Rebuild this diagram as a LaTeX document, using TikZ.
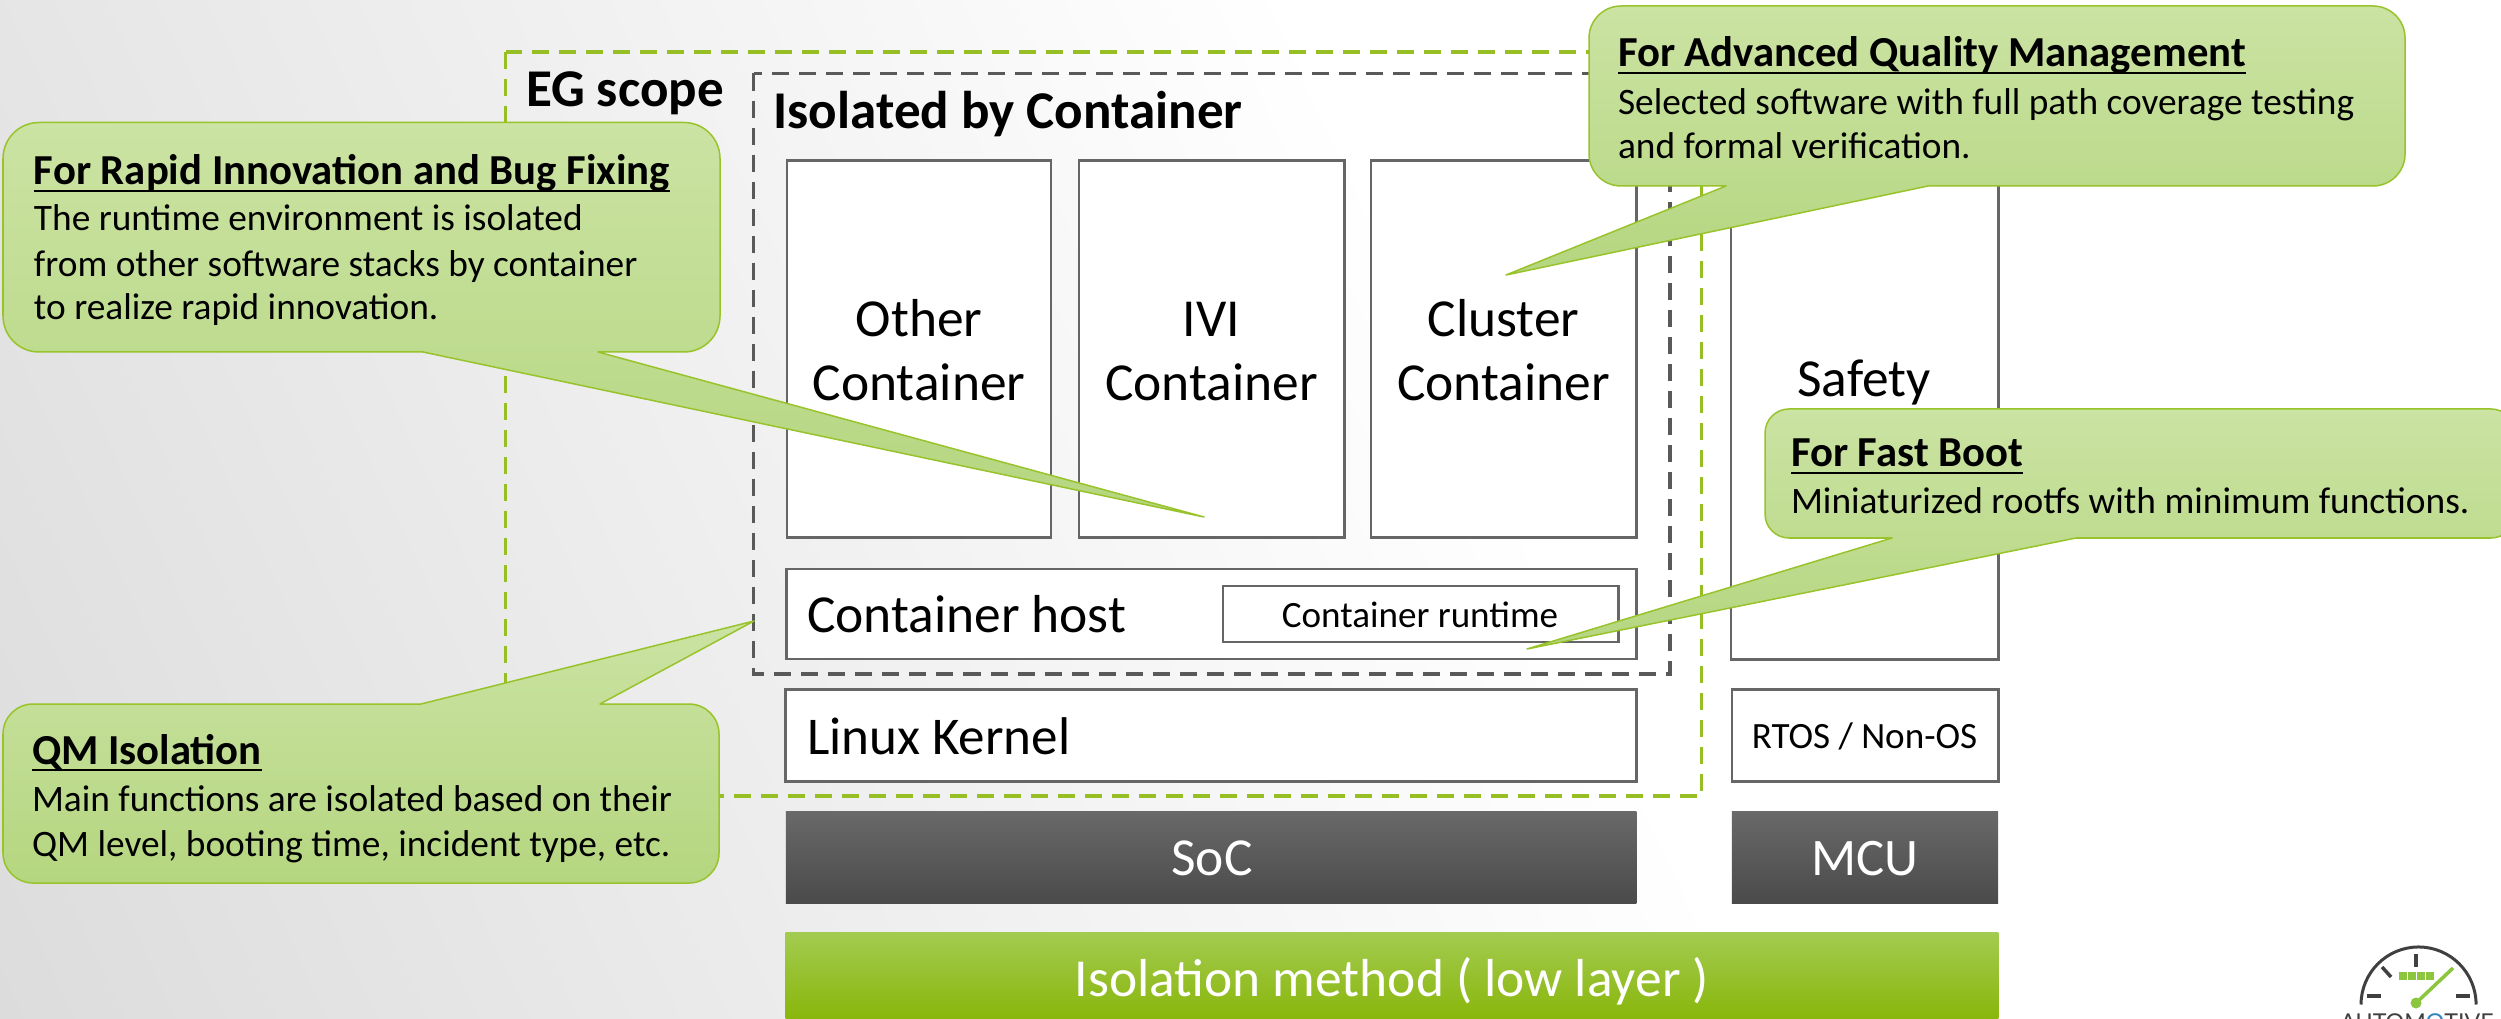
\documentclass[tikz,border=0pt]{standalone}
\usepackage{fontspec}
\setmainfont{Carlito}
\newfontfamily\logofont{Lato}
\usetikzlibrary{calc}
\definecolor{dashgreen}{HTML}{97BE22}
\definecolor{dashgray}{HTML}{595959}
\definecolor{boxline}{HTML}{666666}
\definecolor{callline}{HTML}{98C32A}
\definecolor{calltop}{HTML}{CBE3A3}
\definecolor{callbot}{HTML}{B5D680}
\definecolor{bgleft}{HTML}{DCDCDC}
\definecolor{darktop}{HTML}{696969}
\definecolor{darkbot}{HTML}{4A4A4A}
\definecolor{bartop}{HTML}{A3CB50}
\definecolor{barbot}{HTML}{89B60B}
\definecolor{logogreen}{HTML}{8CC63F}
\definecolor{logodark}{HTML}{404040}
\definecolor{logoblue}{HTML}{2E86C1}
\newcommand{\tul}[1]{\setbox0=\hbox{#1}\rlap{\vrule width\wd0 height-0.11em depth 0.17em}\box0}
\newcommand{\fs}[1]{\fontsize{#1pt}{1.2em}\selectfont}
\tikzset{
  whitebox/.style={draw=boxline,line width=.028cm,fill=white,inner sep=0pt,outer sep=0pt,align=center,font=\fs{15.2}},
  darkbox/.style={top color=darktop,bottom color=darkbot,inner sep=0pt,outer sep=0pt,text=white},
  barbox/.style={top color=bartop,bottom color=barbot,inner sep=0pt,outer sep=0pt,text=white},
  callout/.style={draw=callline,line width=.015cm,top color=calltop,bottom color=callbot,line join=round},
  scopedash/.style={line width=.038cm,dash pattern=on .17cm off .10cm},
  lbl/.style={anchor=base west,inner sep=0pt,outer sep=0pt},
  lblc/.style={anchor=base,inner sep=0pt,outer sep=0pt},
  ctitle/.style={lbl,font=\bfseries\fs{12.15}},
  cbody/.style={lbl,font=\fs{10.62}},
}
\begin{document}
\begin{tikzpicture}[x=.01cm,y=-.01cm]
\useasboundingbox (0,0) rectangle (2501,1019);
\begin{scope}
\clip (0,0) rectangle (2501,1019);
\fill[white] (0,0) rectangle (2501,1019);
\shade[transform canvas={shift={(0cm,-10.19cm)},rotate=25},left color=bgleft,right color=white]
  (0cm,-30cm) rectangle (16cm,30cm);

% dashed scopes
\draw[scopedash,draw=dashgreen] (505.5,52) rectangle (1701.5,796);
\draw[scopedash,draw=dashgray] (753.5,73.5) rectangle (1670,674);
\node[lbl,font=\bfseries\fs{15.1}] (egscope) at (526,107) {EG scope};
\node[lbl,font=\bfseries\fs{15.1}] (isolated) at (773.5,128.5) {Isolated by Container};

% container boxes
\node[whitebox,minimum width=2.64cm,minimum height=3.775cm] (other) at (919,349) {};
\node[whitebox,minimum width=2.65cm,minimum height=3.775cm] (ivi) at (1211.5,349) {};
\node[whitebox,minimum width=2.65cm,minimum height=3.775cm] (cluster) at (1503.5,349) {};
\node[whitebox,minimum width=2.67cm,minimum height=4.99cm] (safety) at (1864.5,409.5) {};
\node[lblc,font=\fs{15.2}] (othera) at (919,336.5) {Other};
\node[lblc,font=\fs{15.2}] (otherb) at (919,400.5) {Container};
\node[lblc,font=\fs{15.2}] (ivia) at (1211.5,336.5) {IVI};
\node[lblc,font=\fs{15.2}] (ivib) at (1211.5,400.5) {Container};
\node[lblc,font=\fs{15.2}] (clustera) at (1503.5,336.5) {Cluster};
\node[lblc,font=\fs{15.2}] (clusterb) at (1503.5,400.5) {Container};
\node[lblc,font=\fs{15.2}] (safetyt) at (1864,397) {Safety};

% host, kernel
\node[whitebox,minimum width=8.49cm,minimum height=.90cm] (host) at (1211.5,614) {};
\node[lbl,font=\fs{15.2}] (hostt) at (807,633) {Container host};
\node[whitebox,minimum width=3.95cm,minimum height=.56cm] (runtime) at (1420.5,614) {};
\node[lblc,font=\fs{10.55}] (runtimet) at (1420,627.5) {Container runtime};
\node[whitebox,minimum width=8.50cm,minimum height=.92cm] (kernel) at (1211,735.5) {};
\node[lbl,font=\fs{15.1}] (kernelt) at (807,754) {Linux Kernel};
\node[whitebox,minimum width=2.66cm,minimum height=.92cm] (rtos) at (1865,735.5) {};
\node[lblc,font=\fs{10.55}] (rtost) at (1864.5,748.5) {RTOS / Non-OS};

% hardware
\node[darkbox,minimum width=8.50cm,minimum height=.92cm] (soc) at (1211,857.5) {};
\node[lblc,font=\fs{15.2},text=white] (soct) at (1212,875) {SoC};
\node[darkbox,minimum width=2.66cm,minimum height=.92cm] (mcu) at (1865,857.5) {};
\node[lblc,font=\fs{15},text=white] (mcut) at (1865,875) {MCU};
\node[barbox,minimum width=12.12cm,minimum height=.86cm] (bar) at (1392,976) {};
\node[lblc,font=\fs{15.2},text=white] (bart) at (1392,996) {Isolation method ( low layer )};

% callouts
\draw[callout,rounded corners=.36cm] (300,122.5) -- (720,122.5) -- (720,352) [sharp corners] -- (598,352) -- (1204,517) -- (423,352) [rounded corners=.36cm] -- (3,352) -- (3,122.5) -- cycle;
\draw[callout,rounded corners=.32cm] (1900,6) -- (2405,6) -- (2405,186) [sharp corners] -- (1928,186) -- (1506,275) -- (1726,186) [rounded corners=.32cm] -- (1589,186) -- (1589,6) -- cycle;
\draw[callout,rounded corners=.24cm] (2100,409) -- (2515,409) -- (2515,538) [sharp corners] -- (2076,538) -- (1527,649) -- (1892,538) [rounded corners=.24cm] -- (1765,538) -- (1765,409) -- cycle;
\draw[callout,rounded corners=.30cm] (300,883) -- (3,883) -- (3,704) [sharp corners] -- (421,704) -- (754,621) -- (600,704) [rounded corners=.30cm] -- (719,704) -- (719,883) -- cycle;

\node[ctitle] (t1) at (34,185) {\tul{For Rapid Innovation and Bug Fixing}};
\node[cbody] (b1a) at (34,231) {The runtime environment is isolated};
\node[cbody] (b1b) at (34,277) {from other software stacks by container};
\node[cbody] (b1c) at (34,320) {to realize rapid innovation.};

\node[ctitle] (t2) at (1618,67) {\tul{For Advanced Quality Management}};
\node[cbody] (b2a) at (1618,115) {Selected software with full path coverage testing};
\node[cbody] (b2b) at (1618,159) {and formal verification.};

\node[ctitle] (t3) at (1791,467) {\tul{For Fast Boot}};
\node[cbody] (b3a) at (1791,514) {Miniaturized rootfs with minimum functions.};

\node[ctitle] (t4) at (32,764) {\tul{QM Isolation}};
\node[cbody] (b4a) at (32,811) {Main functions are isolated based on their};
\node[cbody] (b4b) at (32,856) {QM level, booting time, incident type, etc.};

% logo
\draw[logodark,line width=.03cm] (2361,1004.5) arc[start angle=180,end angle=0,radius=.575cm];
\draw[logodark,line width=.035cm] (2367,996) -- (2381,996);
\draw[logodark,line width=.035cm] (2456,996) -- (2470,996);
\draw[logodark,line width=.035cm] (2416,954) -- (2416,967);
\draw[logodark,line width=.035cm] (2382,967) -- (2391,977);
\foreach \sx in {2399,2408,2417,2426}
  \fill[logogreen] (\sx,972) rectangle ++(8,8);
\draw[logogreen,line width=.035cm] (2416,1003) -- (2453,968);
\fill[logogreen] (2416,1003) circle[radius=.055cm];
\node[lblc,font=\logofont\fs{6.6},text=logodark] (logot) at (2417,1030) {AUTOM\textcolor{logoblue}{O}TIVE};
\end{scope}
\end{tikzpicture}
\end{document}
